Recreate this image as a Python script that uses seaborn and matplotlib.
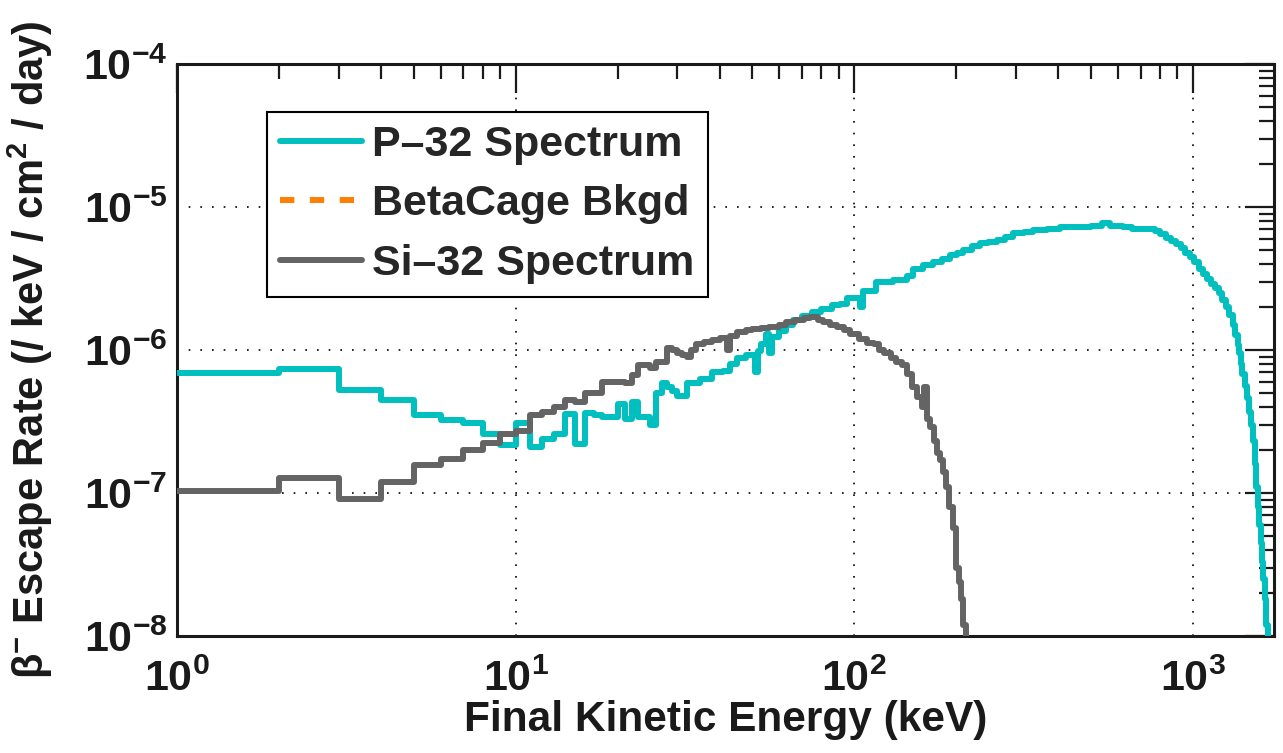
import matplotlib
matplotlib.use("Agg")
import matplotlib.pyplot as plt
from matplotlib.lines import Line2D
import seaborn as sns
import pandas as pd

# ---------------- data ----------------
# left bin edges (keV) and escape rate (/keV/cm^2/day)
p32_energy_keV = [1, 2, 3, 4, 5, 6, 7, 8, 9, 10, 11, 12, 13, 14, 15, 16, 17, 18, 19,
                  20, 21, 22, 23, 24, 25, 26, 27, 28, 29, 30, 32, 35, 38, 41, 43, 45,
                  48, 51, 52, 53, 55, 56, 57, 60, 63, 66, 70, 75, 80, 86, 91, 95, 104,
                  106, 116, 130, 143, 149, 160, 171, 181, 192, 201, 210, 222, 235, 249,
                  263, 279, 295, 316, 338, 370, 405, 450, 500, 540, 570, 620, 660, 700,
                  740, 770, 800, 830, 860, 890, 920, 950, 980, 1010, 1040, 1070, 1100,
                  1130, 1160, 1190, 1220, 1250, 1280, 1310, 1335, 1355, 1370, 1385,
                  1400, 1420, 1440, 1460, 1480, 1500, 1520, 1540, 1555, 1570, 1585,
                  1600, 1615, 1630, 1645, 1660]
p32_rate = [6.9e-7, 7.4e-7, 5.25e-7, 4.5e-7, 3.5e-7, 3.25e-7, 3.1e-7, 2.6e-7, 2.17e-7,
            3.1e-7, 2.1e-7, 2.4e-7, 2.6e-7, 3.55e-7, 2.2e-7, 3.6e-7, 3.5e-7, 3.4e-7,
            3.4e-7, 4.2e-7, 3.3e-7, 4.3e-7, 3.4e-7, 3.4e-7, 3.0e-7, 5.0e-7, 5.9e-7,
            5.5e-7, 5.2e-7, 4.8e-7, 5.9e-7, 6.3e-7, 7.0e-7, 7.1e-7, 8.0e-7, 8.8e-7,
            9.3e-7, 7.0e-7, 9.8e-7, 1.1e-6, 1.3e-6, 9.5e-7, 1.23e-6, 1.35e-6, 1.5e-6,
            1.62e-6, 1.72e-6, 1.85e-6, 1.95e-6, 2.05e-6, 2.1e-6, 2.3e-6, 2.0e-6,
            2.6e-6, 3.0e-6, 3.1e-6, 3.3e-6, 3.7e-6, 3.9e-6, 4.1e-6, 4.3e-6, 4.6e-6,
            4.8e-6, 5.0e-6, 5.3e-6, 5.6e-6, 5.7e-6, 5.9e-6, 6.2e-6, 6.6e-6, 6.7e-6,
            6.9e-6, 7.0e-6, 7.2e-6, 7.3e-6, 7.4e-6, 7.7e-6, 7.4e-6, 7.2e-6, 7.0e-6,
            7.0e-6, 7.0e-6, 6.8e-6, 6.5e-6, 6.1e-6, 5.8e-6, 5.5e-6, 5.2e-6, 4.8e-6,
            4.5e-6, 4.1e-6, 3.7e-6, 3.4e-6, 3.15e-6, 2.9e-6, 2.7e-6, 2.5e-6, 2.25e-6,
            2.0e-6, 1.75e-6, 1.5e-6, 1.28e-6, 1.08e-6, 9.5e-7, 8.0e-7, 6.8e-7, 5.6e-7,
            4.6e-7, 3.7e-7, 3.0e-7, 2.3e-7, 1.6e-7, 1.1e-7, 8e-8, 6e-8, 4.5e-8, 3.3e-8,
            2.5e-8, 1.8e-8, 1.2e-8, 7e-9]
p32_end_keV = 1700

si32_energy_keV = [1, 2, 3, 4, 5, 6, 7, 8, 9, 10, 11, 12, 13, 14, 15, 16, 17, 18, 19,
                   20, 21, 22, 23, 24, 25, 26, 27, 28, 29, 30, 31, 32, 33, 34, 36, 38,
                   40, 42, 43, 45, 48, 50, 53, 56, 60, 63, 67, 71, 74, 78, 81, 85, 89,
                   93, 97, 103, 109, 114, 118, 122, 128, 133, 138, 143, 148, 153, 158,
                   161, 164, 167, 172, 176, 179, 183, 187, 191, 196, 200, 204, 207, 210,
                   213]
si32_rate = [1.03e-7, 1.27e-7, 9.1e-8, 1.2e-7, 1.58e-7, 1.73e-7, 2.0e-7, 2.23e-7,
             2.58e-7, 2.7e-7, 3.5e-7, 3.7e-7, 4.0e-7, 4.5e-7, 4.3e-7, 5.0e-7, 5.0e-7,
             6.0e-7, 6.0e-7, 6.0e-7, 5.9e-7, 6.7e-7, 7.9e-7, 7.9e-7, 7.5e-7, 8.2e-7,
             8.2e-7, 1.03e-6, 1.0e-6, 9.5e-7, 9.3e-7, 8.9e-7, 1.0e-6, 1.1e-6, 1.14e-6,
             1.18e-6, 1.22e-6, 1.0e-6, 1.25e-6, 1.34e-6, 1.38e-6, 1.41e-6, 1.43e-6,
             1.45e-6, 1.5e-6, 1.57e-6, 1.62e-6, 1.68e-6, 1.7e-6, 1.62e-6, 1.57e-6,
             1.5e-6, 1.45e-6, 1.38e-6, 1.3e-6, 1.2e-6, 1.12e-6, 1.1e-6, 1.0e-6, 9.5e-7,
             8.8e-7, 8.2e-7, 7.8e-7, 6.8e-7, 5.5e-7, 4.7e-7, 4.0e-7, 5.5e-7, 3.3e-7,
             2.9e-7, 2.3e-7, 1.9e-7, 1.69e-7, 1.4e-7, 1.1e-7, 8e-8, 5.7e-8, 3.0e-8,
             2.4e-8, 1.8e-8, 1.2e-8, 1e-9]
si32_end_keV = 215

series_labels = ["P\u201332 Spectrum", "BetaCage Bkgd", "Si\u201332 Spectrum"]
series_colors = ["#00BFBF", "#FF8000", "#646464"]

x_ticks = [1, 10, 100, 1000]
y_ticks = [1e-8, 1e-7, 1e-6, 1e-5, 1e-4]
x_limits = (1, 1735)
y_limits = (1e-8, 1e-4)
x_label = "Final Kinetic Energy (keV)"
y_label = "\u03b2$^{\\mathdefault{-}}$ Escape Rate (/ keV / cm$^{\\mathdefault{2}}$ / day)"

# ---------------- style ----------------
sns.set_theme(style="white")
plt.rcParams["font.family"] = ["Liberation Sans", "DejaVu Sans"]
plt.rcParams["font.weight"] = "bold"
plt.rcParams["axes.labelweight"] = "bold"

fig = plt.figure(figsize=(12.83, 7.53), dpi=100)
ax = fig.add_axes([177 / 1283, 1 - 636 / 753, (1274 - 177) / 1283, (636 - 64) / 753])
ax.set_xscale("log")
ax.set_yscale("log")


def steps(edges, vals, end):
    return pd.DataFrame({"E": list(edges) + [end], "R": list(vals) + [vals[-1]]})


p32 = steps(p32_energy_keV, p32_rate, p32_end_keV)
si32 = steps(si32_energy_keV, si32_rate, si32_end_keV)

lw = 4.3
sns.lineplot(data=p32, x="E", y="R", drawstyle="steps-post", color=series_colors[0],
             lw=lw, estimator=None, sort=False, ax=ax, legend=False, zorder=3)
sns.lineplot(data=si32, x="E", y="R", drawstyle="steps-post", color=series_colors[2],
             lw=lw, estimator=None, sort=False, ax=ax, legend=False, zorder=4)

ax.set_xlim(*x_limits)
ax.set_ylim(*y_limits)
ax.set_xticks(x_ticks)
ax.set_yticks(y_ticks)

ax.grid(True, which="major", color="black", linestyle=(0, (1, 6)), linewidth=1.2)
ax.tick_params(which="both", direction="in", top=True, right=True, color="#1a1a1a")
ax.tick_params(which="major", length=21, width=1.6, labelsize=31, pad=17)
ax.tick_params(which="minor", length=10.5, width=1.6)
ax.tick_params(axis="y", which="major", pad=7)
for lab in ax.get_xticklabels() + ax.get_yticklabels():
    lab.set_fontweight("bold")
    lab.set_color("#1a1a1a")
for sp in ax.spines.values():
    sp.set_linewidth(2.2)
    sp.set_color("#1a1a1a")

ax.set_xlabel(x_label, fontsize=30.5, fontweight="bold", color="#1a1a1a", labelpad=0)
ax.set_ylabel(y_label, fontsize=30, fontweight="bold", color="#1a1a1a", labelpad=20)

handles = [
    Line2D([], [], color=series_colors[0], lw=lw, linestyle="-"),
    Line2D([], [], color=series_colors[1], lw=lw, linestyle=(0, (2.4, 2.6))),
    Line2D([], [], color=series_colors[2], lw=lw, linestyle="-"),
]
leg = ax.legend(handles, series_labels, loc="upper left",
                bbox_to_anchor=((267 - 177) / 1097, (636 - 112) / 572),
                borderaxespad=0, fontsize=31, frameon=True, fancybox=False,
                edgecolor="black", framealpha=1, handlelength=1.9,
                handletextpad=0.25, labelspacing=0.45, borderpad=0.3)
leg.get_frame().set_linewidth(1.5)
for t in leg.get_texts():
    t.set_fontweight("bold")

fig.savefig("out.png", dpi=100)
